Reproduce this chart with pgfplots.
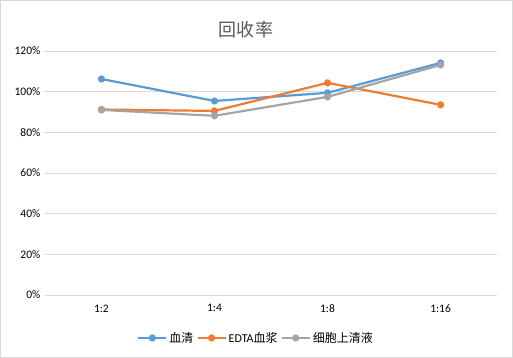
\documentclass[border=0pt]{standalone}
\usepackage{pgfplots}
\pgfplotsset{compat=1.18}
\usepackage{fontspec}
\setmainfont{Carlito}
\newfontfamily\cjk{Noto Sans CJK SC}
\definecolor{cblue}{HTML}{5B9BD5}
\definecolor{corange}{HTML}{ED7D31}
\definecolor{cgray}{HTML}{A5A5A5}
\definecolor{cgrid}{HTML}{D9D9D9}
\definecolor{ctext}{HTML}{595959}
\begin{document}
\begin{tikzpicture}[x=1pt,y=1pt]
\draw[cgrid, line width=0.8pt, fill=white] (0.5,0.5) rectangle (512.5,357.5);
\node[font=\cjk\fontsize{18}{20}\selectfont, text=ctext] at (246,328) {回收率};
\begin{axis}[
  at={(45pt,63pt)}, anchor=south west,
  scale only axis, width=452pt, height=244pt,
  xmin=-0.5, xmax=3.5, ymin=0, ymax=120,
  xtick={0,1,2,3}, xticklabels={1:2,1:4,1:8,1:16},
  ytick={0,20,40,60,80,100,120},
  yticklabel={\pgfmathprintnumber{\tick}\%},
  /pgf/number format/assume math mode=true,
  ticklabel style={font=\fontsize{11.5}{13}\selectfont, text=black},
  major tick length=0pt,
  axis line style={draw=none},
  ymajorgrids, grid style={cgrid, line width=0.8pt},
  xticklabel style={yshift=-6pt},
  yticklabel style={xshift=-1pt},
  clip=false,
  legend columns=-1,
  legend style={at={(0.467,-0.176)}, anchor=center, draw=none, fill=none,
    font=\fontsize{12}{14}\selectfont, /tikz/every even column/.append style={column sep=1pt}},
  legend image code/.code={\draw[#1, mark repeat=2, mark phase=2] plot coordinates {(0pt,0pt)(14pt,0pt)(28pt,0pt)};},
]
\addplot[cblue, line width=2.2pt, mark=*, mark size=3.5pt, mark options={solid, fill=cblue, draw=cblue, line width=0.1pt}] coordinates {(0,106.2) (1,95.4) (2,99.4) (3,114.1)};
\addplot[corange, line width=2.2pt, mark=*, mark size=3.5pt, mark options={solid, fill=corange, draw=corange, line width=0.1pt}] coordinates {(0,91.2) (1,90.5) (2,104.3) (3,93.5)};
\addplot[cgray, line width=2.2pt, mark=*, mark size=3.5pt, mark options={solid, fill=cgray, draw=cgray, line width=0.1pt}] coordinates {(0,91.0) (1,88.1) (2,97.4) (3,113.1)};
\legend{{\cjk 血清},{EDTA\cjk 血浆},{\cjk 细胞上清液}}
\end{axis}
\end{tikzpicture}
\end{document}
